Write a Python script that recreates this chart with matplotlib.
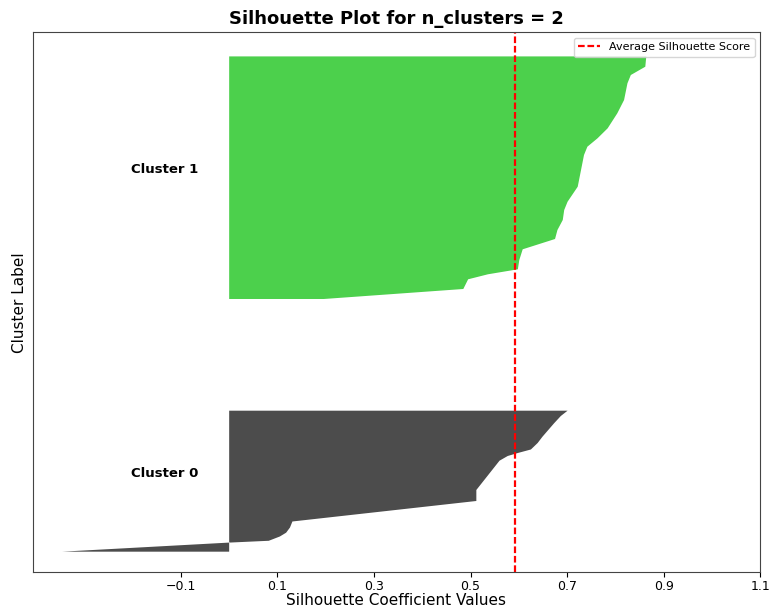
import numpy as np
import matplotlib
matplotlib.use("Agg")
import matplotlib.pyplot as plt
from matplotlib import cm

# Silhouette coefficients per cluster, sorted ascending, against their
# rank position inside the cluster band.
cluster_names = ["Cluster 0", "Cluster 1"]

cluster0_rank = [0, 9.0, 10.9, 15.2, 19.0, 24.2, 30.2, 50.7, 61.7, 91.0,
                 95.7, 98.7, 102.2, 108.7, 115.0, 128.4, 135.7, 141.0]
cluster0_sil = [-0.346, -0.004, 0.082, 0.105, 0.118, 0.126, 0.131, 0.512,
                0.512, 0.560, 0.577, 0.598, 0.625, 0.639, 0.649, 0.673,
                0.687, 0.701]

cluster1_rank = [0, 10.0, 19.7, 24.7, 29.7, 39.0, 49.7, 60.0, 69.0, 79.0,
                 89.0, 97.3, 112.3, 144.0, 152.3, 160.7, 170.7, 185.7,
                 199.0, 215.7, 224.0, 232.3, 242.6]
cluster1_sil = [0.196, 0.485, 0.495, 0.536, 0.598, 0.601, 0.608, 0.675,
                0.680, 0.691, 0.694, 0.701, 0.722, 0.735, 0.742, 0.763,
                0.784, 0.804, 0.818, 0.825, 0.832, 0.862, 0.864]

avg_score = 0.592
xtick_values = [-0.1, 0.1, 0.3, 0.5, 0.7, 0.9, 1.1]

fig = plt.figure(figsize=(7.71, 6.13), dpi=100)
ax = fig.add_axes([0.0424, 0.0661, 0.9436, 0.8812])

ranks = [cluster0_rank, cluster1_rank]
sils = [cluster0_sil, cluster1_sil]
n_clusters = len(cluster_names)

y_lower = 24.0
band_gap = 111.7
for i in range(n_clusters):
    color = cm.nipy_spectral(float(i) / n_clusters)
    y = y_lower + np.asarray(ranks[i])
    ax.fill_betweenx(y, 0, sils[i], facecolor=color, edgecolor="none",
                     linewidth=0, alpha=0.7)
    mid = y_lower + ranks[i][-1] / 2.0
    ax.text(-0.133, mid + 4.5, cluster_names[i], ha="center",
            fontsize=9.5, fontweight="bold")
    y_lower = y[-1] + band_gap

ax.axvline(avg_score, color="red", linestyle=(0, (3.0, 1.25)), linewidth=1.6,
           label="Average Silhouette Score")

ax.set_xlim(-0.407, 1.1)
ax.set_ylim(3.2, 543.4)
ax.set_yticks([])
ax.set_xticks(xtick_values)
ax.set_xticklabels([f"{v:.1f}".replace("-", "\u2212") for v in xtick_values])
ax.tick_params(axis="x", labelsize=9, pad=2)
for s in ax.spines.values():
    s.set_color("#444444")

ax.set_title("Silhouette Plot for n_clusters = 2", fontsize=13,
             fontweight="bold")
ax.set_xlabel("Silhouette Coefficient Values", fontsize=11, labelpad=0)
ax.set_ylabel("Cluster Label", fontsize=11)
ax.legend(loc="upper right", fontsize=8)

fig.savefig("out.png", dpi=100)
